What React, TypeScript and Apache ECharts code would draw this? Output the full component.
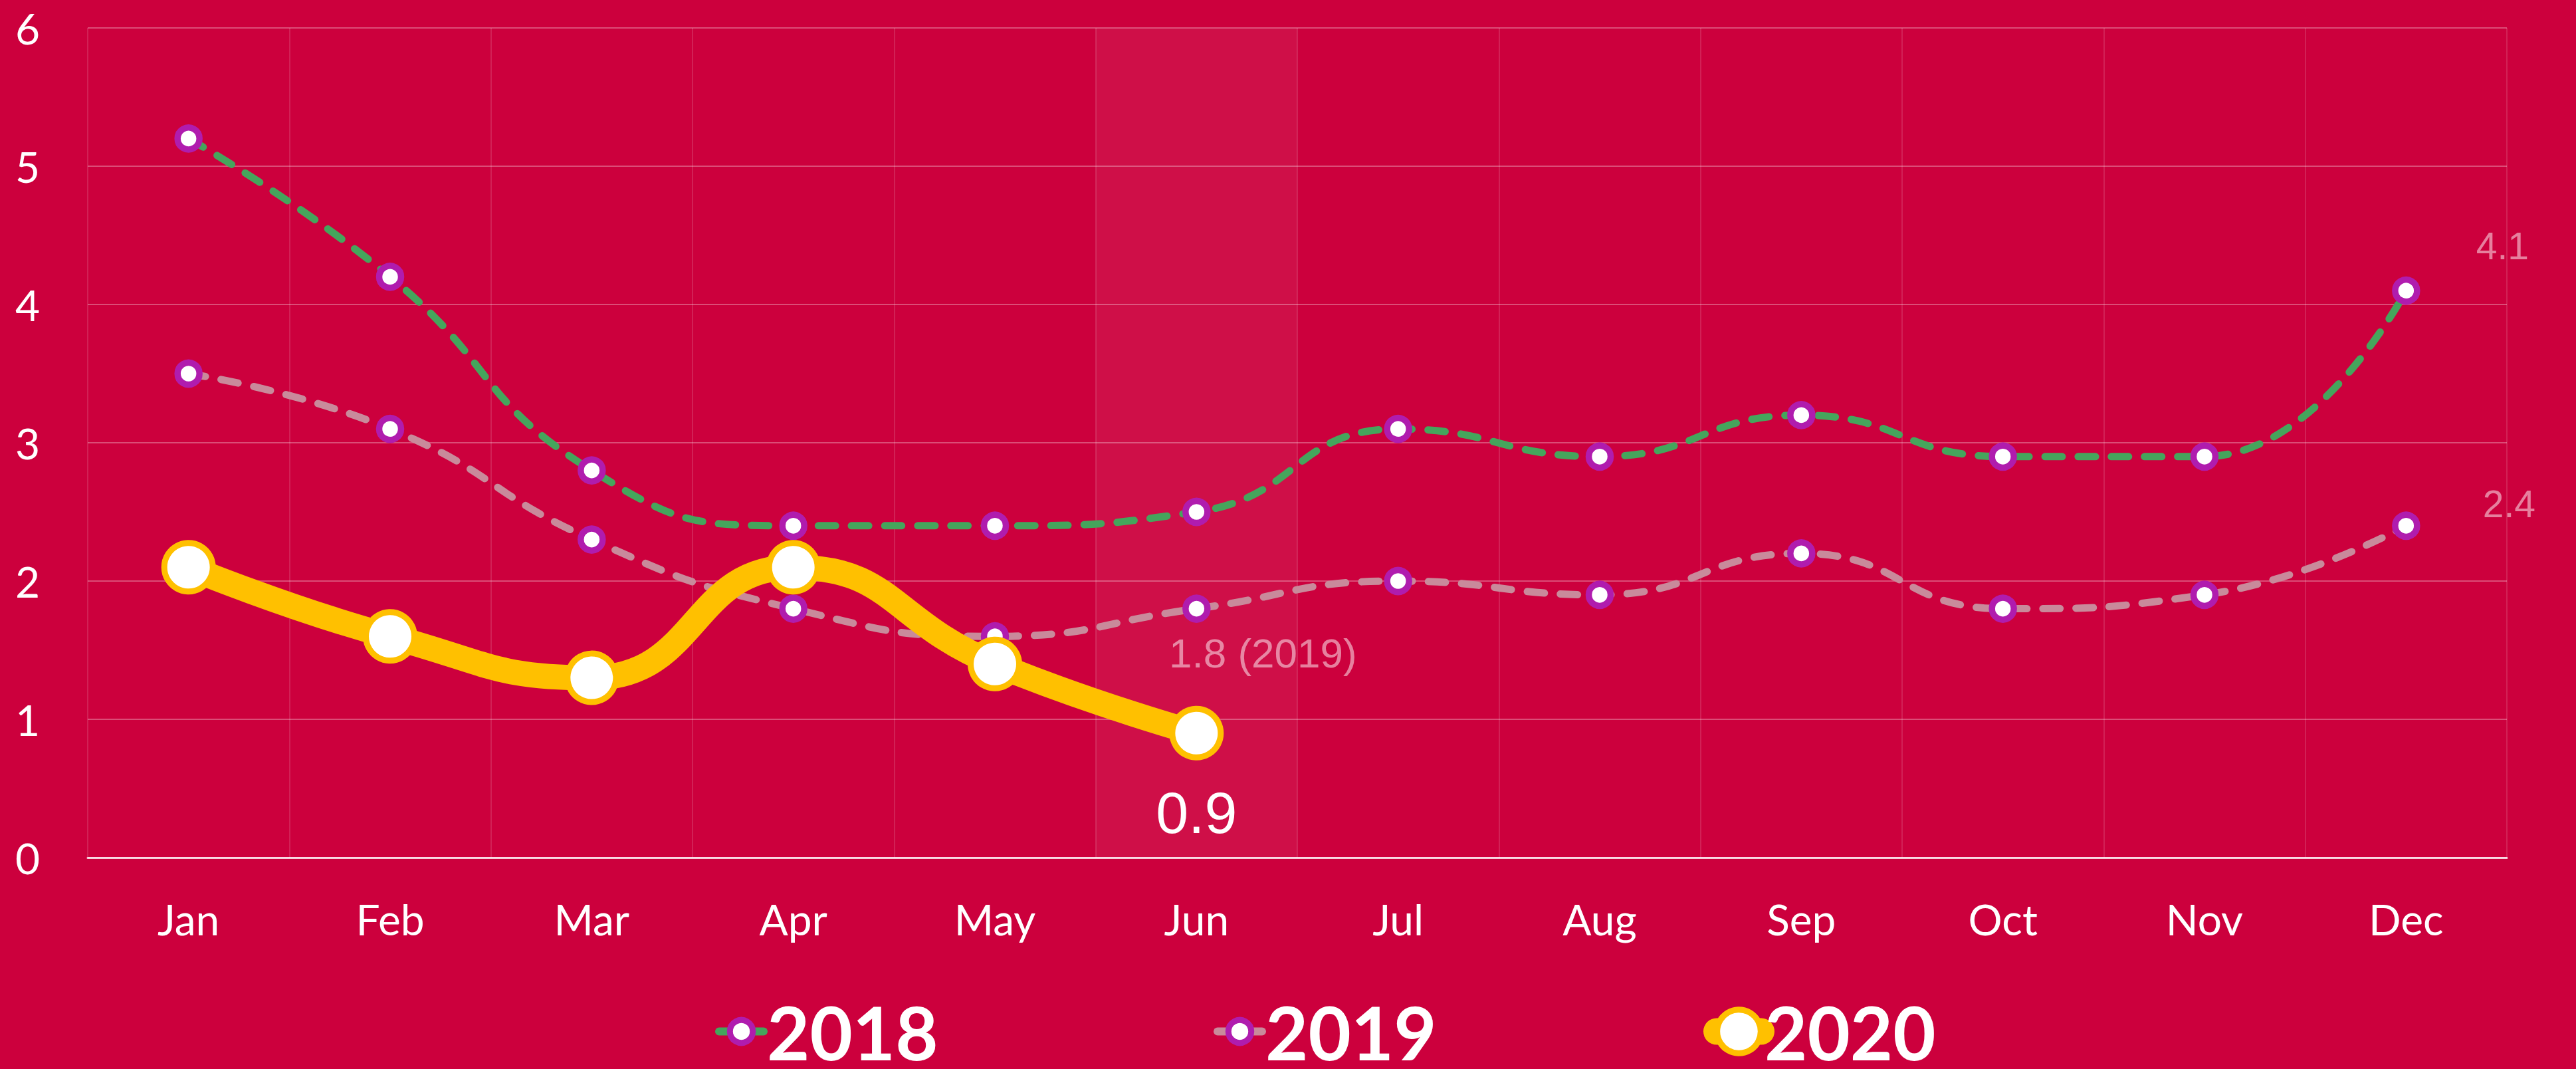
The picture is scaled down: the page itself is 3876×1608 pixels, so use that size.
import React, { useEffect, useRef } from 'react';
import * as echarts from 'echarts';

const months = ['Jan', 'Feb', 'Mar', 'Apr', 'May', 'Jun', 'Jul', 'Aug', 'Sep', 'Oct', 'Nov', 'Dec'];
const values2018 = [5.2, 4.2, 2.8, 2.4, 2.4, 2.5, 3.1, 2.9, 3.2, 2.9, 2.9, 4.1];
const values2019 = [3.5, 3.1, 2.3, 1.8, 1.6, 1.8, 2.0, 1.9, 2.2, 1.8, 1.9, 2.4];
const values2020 = [2.1, 1.6, 1.3, 2.1, 1.4, 0.9];
const yTicks = [0, 1, 2, 3, 4, 5, 6];
const highlightMonth = 'Jun';

const BG = '#CC003D';
const GREEN = '#45A55C';
const PINK = '#C98A9B';
const PURPLE = '#B01CAE';
const YELLOW = '#FFC000';
const LABEL_PINK = 'rgba(255,255,255,0.5)';
const AXIS_FONT = 'Lato';
const LABEL_FONT = '"Liberation Sans", Arial, sans-serif';

function withLabels(values: number[], labels: Record<number, any>) {
  return values.map((v, i) => (labels[i] ? { value: v, label: { show: true, ...labels[i] } } : v));
}

export default function App() {
  const ref = useRef<HTMLDivElement>(null);
  useEffect(() => {
    if (!ref.current) return;
    const chart = echarts.init(ref.current, null, { renderer: 'svg' });
    const yMin = yTicks[0];
    const yMax = yTicks[yTicks.length - 1];
    const yInterval = yTicks[1] - yTicks[0];
    const legendText = { color: '#fff', fontSize: 111, lineHeight: 100, fontWeight: 'bold', fontFamily: AXIS_FONT };
    const dash = [26, 24];
    const legendTop = 1496;
    const option: any = {
      animation: false,
      backgroundColor: BG,
      grid: { left: 132, right: 104, top: 42, bottom: 318, containLabel: false },
      xAxis: {
        type: 'category',
        data: months,
        boundaryGap: true,
        axisTick: { show: false },
        axisLine: { show: true, lineStyle: { color: 'rgba(255,255,255,0.8)', width: 3 } },
        splitLine: { show: true, lineStyle: { color: 'rgba(255,255,255,0.13)', width: 2 } },
        axisLabel: { color: '#fff', fontSize: 64, fontFamily: AXIS_FONT, margin: 60 },
      },
      yAxis: {
        type: 'value',
        min: yMin,
        max: yMax,
        interval: yInterval,
        axisLine: { show: false },
        axisTick: { show: false },
        splitLine: { show: true, lineStyle: { color: 'rgba(255,255,255,0.3)', width: 2 } },
        axisLabel: { color: '#fff', fontSize: 64, fontFamily: AXIS_FONT, margin: 72 },
      },
      legend: [
        {
          data: [{ name: '2018', itemStyle: { color: '#fff', borderColor: PURPLE, borderWidth: 9 }, lineStyle: { color: GREEN, width: 12, type: 'solid', cap: 'round' } }],
          left: 1076, top: legendTop, itemWidth: 67, itemHeight: 43, padding: 0, selectedMode: false, textStyle: legendText,
        },
        {
          data: [{ name: '2019', itemStyle: { color: '#fff', borderColor: PURPLE, borderWidth: 9 }, lineStyle: { color: PINK, width: 12, type: 'solid', cap: 'round' } }],
          left: 1826, top: legendTop, itemWidth: 67, itemHeight: 43, padding: 0, selectedMode: false, textStyle: legendText,
        },
        {
          data: [{ name: '2020', itemStyle: { color: '#fff', borderColor: YELLOW, borderWidth: 9 }, lineStyle: { color: YELLOW, width: 40, type: 'solid', cap: 'round' } }],
          left: 2563, top: legendTop, itemWidth: 67, itemHeight: 82, padding: 0, selectedMode: false, textStyle: legendText,
        },
      ],
      series: [
        {
          name: 'highlight',
          type: 'bar',
          data: months.map((m) => (m === highlightMonth ? yMax : null)),
          barWidth: '100%',
          itemStyle: { color: 'rgba(255,255,255,0.06)' },
          silent: true,
          z: 0,
        },
        {
          name: '2019',
          type: 'line',
          smooth: true,
          z: 2,
          data: withLabels(values2019, {
            5: { position: 'inside', offset: [100, 67], color: LABEL_PINK, fontSize: 62, fontFamily: LABEL_FONT, formatter: '{c} (2019)' },
            11: { position: 'inside', offset: [155, -33], color: LABEL_PINK, fontSize: 57, fontFamily: LABEL_FONT, formatter: '{c}' },
          }),
          symbol: 'circle',
          symbolSize: 33,
          showSymbol: true,
          showAllSymbol: true,
          itemStyle: { color: '#fff', borderColor: PURPLE, borderWidth: 9.5 },
          lineStyle: { color: PINK, width: 11, type: dash, cap: 'round' },
          label: { show: false },
        },
        {
          name: '2018',
          type: 'line',
          smooth: true,
          z: 3,
          data: withLabels(values2018, {
            11: { position: 'inside', offset: [145, -67], color: LABEL_PINK, fontSize: 57, fontFamily: LABEL_FONT, formatter: '{c}' },
          }),
          symbol: 'circle',
          symbolSize: 33,
          showSymbol: true,
          showAllSymbol: true,
          itemStyle: { color: '#fff', borderColor: PURPLE, borderWidth: 9.5 },
          lineStyle: { color: GREEN, width: 11, type: dash, cap: 'round' },
          label: { show: false },
        },
        {
          name: '2020',
          type: 'line',
          smooth: true,
          z: 4,
          data: withLabels(values2020, {
            5: { position: 'inside', offset: [0, 120], color: '#fff', fontSize: 88, fontFamily: LABEL_FONT, formatter: '{c}' },
          }),
          symbol: 'circle',
          symbolSize: 73,
          showSymbol: true,
          showAllSymbol: true,
          itemStyle: { color: '#fff', borderColor: YELLOW, borderWidth: 9 },
          lineStyle: { color: YELLOW, width: 38, cap: 'round' },
          label: { show: false },
        },
      ],
    };
    chart.setOption(option);
    return () => chart.dispose();
  }, []);
  return <div ref={ref} style={{ position: 'fixed', left: 0, top: 0, width: 3876, height: 1608 }} />;
}
